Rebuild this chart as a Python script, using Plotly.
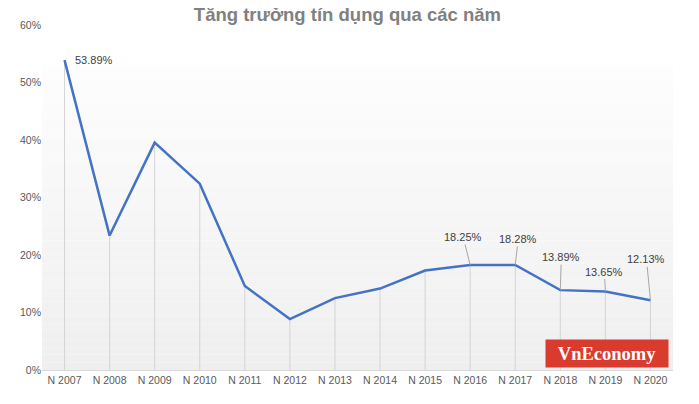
import plotly.graph_objects as go

years = ["N 2007", "N 2008", "N 2009", "N 2010", "N 2011", "N 2012", "N 2013",
         "N 2014", "N 2015", "N 2016", "N 2017", "N 2018", "N 2019", "N 2020"]
growth = [53.89, 23.38, 39.55, 32.4, 14.6, 8.85, 12.51,
          14.16, 17.29, 18.25, 18.28, 13.89, 13.65, 12.13]
labelled = ["N 2007", "N 2016", "N 2017", "N 2018", "N 2019", "N 2020"]

vals = [v / 100 for v in growth]

fig = go.Figure()

# drop lines from each point to the axis
fig.add_trace(go.Scatter(
    x=years, y=vals, mode="markers", marker=dict(size=0.1, color="rgba(0,0,0,0)"),
    error_y=dict(type="data", symmetric=False, array=[0] * len(vals), arrayminus=vals,
                 color="#d4d4d4", thickness=1, width=0),
    hoverinfo="skip", showlegend=False))

fig.add_trace(go.Scatter(
    x=years, y=vals, mode="lines", line=dict(color="#4472C4", width=2.5),
    showlegend=False))

# gradient background
n = 40
top = 0.884
shapes = []
for i in range(n):
    t = i / (n - 1)
    c0, c1 = 0xEF, 0xFD
    c = int(round(c0 + (c1 - c0) * t))
    shapes.append(dict(type="rect", xref="paper", yref="paper", x0=0, x1=1,
                       y0=top * i / n, y1=top * (i + 1) / n,
                       fillcolor=f"rgb({c},{c},{c})", line=dict(width=0), layer="below"))

annots = []
offsets = {
    "N 2016": (-7, -28),
    "N 2017": (3, -26),
    "N 2018": (1, -33),
    "N 2019": (-1, -20),
    "N 2020": (-4, -41),
}
for yr in labelled:
    idx = years.index(yr)
    txt = f"{growth[idx]:.2f}%"
    if yr == "N 2007":
        annots.append(dict(x=yr, y=vals[idx], text=txt, showarrow=False,
                           xanchor="left", yanchor="middle", xshift=8, yshift=0,
                           font=dict(family="Liberation Sans", size=11, color="#404040")))
    else:
        ax, ay = offsets[yr]
        annots.append(dict(x=yr, y=vals[idx], text=txt, showarrow=True,
                           ax=ax, ay=ay, arrowhead=0, arrowwidth=1, arrowcolor="#a6a6a6",
                           font=dict(family="Liberation Sans", size=11, color="#404040")))

# watermark
annots.append(dict(xref="paper", yref="paper", x=0.993, y=0.006, xanchor="right", yanchor="bottom",
                   text="<b>VnEconomy</b>", showarrow=False, bgcolor="#da3b2f",
                   font=dict(family="Liberation Serif", size=18.5, color="white"),
                   width=118, height=23, borderpad=2))

fig.update_layout(
    width=699, height=404,
    margin=dict(l=42, r=26, t=25, b=34),
    paper_bgcolor="white", plot_bgcolor="white",
    title=dict(text="<b>Tăng trưởng tín dụng qua các năm</b>", x=0.497, xanchor="center",
               y=0.965, yanchor="middle",
               font=dict(family="Liberation Sans", size=18.5, color="#808080")),
    xaxis=dict(type="category", showgrid=False, showline=True, linecolor="#d9d9d9",
               linewidth=1, ticks="", range=[-0.5, 13.5],
               tickfont=dict(family="Liberation Sans", size=10.5, color="#595959")),
    yaxis=dict(range=[0, 0.6], dtick=0.1, tickformat=".0%", showgrid=False,
               zeroline=False, showline=False, ticks="",
               tickfont=dict(family="Liberation Sans", size=10.5, color="#595959")),
    shapes=shapes,
    annotations=annots,
    font=dict(family="Liberation Sans"),
)

fig.write_html("out.html", config={"displayModeBar": False},
               post_script="document.body.style.margin='0';document.body.style.overflow='hidden';")
